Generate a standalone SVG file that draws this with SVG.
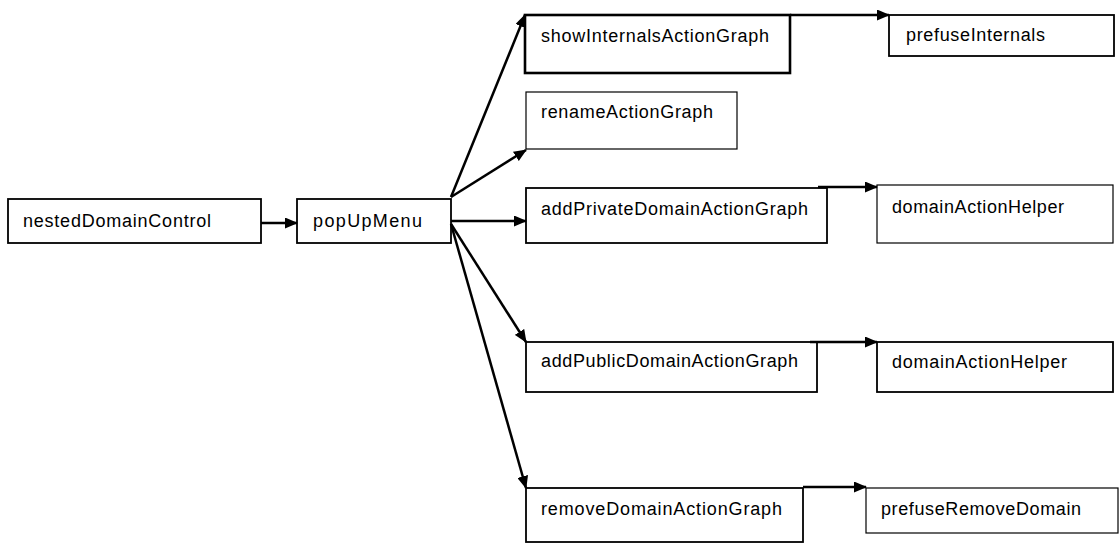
<svg xmlns="http://www.w3.org/2000/svg" width="1120" height="543" viewBox="0 0 1120 543">
<style>
  .box { fill: #ffffff; stroke: #000000; }
  .thin { stroke-width: 1.2; }
  .mid { stroke-width: 1.8; }
  .thick { stroke-width: 2.6; }
  .lbl { font-family: "Liberation Sans", Arial, sans-serif; font-size: 18px; fill: #000000; }
  .edge { fill: none; stroke: #000000; stroke-width: 2.5; marker-end: url(#arrow); }
</style>
<defs>
  <marker id="arrow" markerUnits="userSpaceOnUse" markerWidth="13" markerHeight="11" refX="12" refY="5.5" orient="auto">
    <path d="M0,0 L13,5.5 L0,11 z" fill="#000000"/>
  </marker>
</defs>
<rect width="1120" height="543" fill="#ffffff"/>
<g id="n-nestedDomainControl">
  <rect class="box mid" x="8" y="199" width="253" height="44"/>
  <text class="lbl" x="23" y="227" textLength="188" lengthAdjust="spacing">nestedDomainControl</text>
</g>
<g id="n-popUpMenu">
  <rect class="box mid" x="297" y="199" width="154" height="44"/>
  <text class="lbl" x="313" y="227" textLength="109" lengthAdjust="spacing">popUpMenu</text>
</g>
<g id="n-showInternalsActionGraph">
  <rect class="box thick" x="525" y="15" width="265" height="58"/>
  <text class="lbl" x="541" y="42" textLength="228" lengthAdjust="spacing">showInternalsActionGraph</text>
</g>
<g id="n-renameActionGraph">
  <rect class="box thin" x="526" y="92" width="211" height="57"/>
  <text class="lbl" x="541" y="118" textLength="172" lengthAdjust="spacing">renameActionGraph</text>
</g>
<g id="n-prefuseInternals">
  <rect class="box mid" x="889" y="15" width="225" height="41"/>
  <text class="lbl" x="906" y="41" textLength="139" lengthAdjust="spacing">prefuseInternals</text>
</g>
<g id="n-addPrivateDomainActionGraph">
  <rect class="box mid" x="526" y="188" width="301" height="55"/>
  <text class="lbl" x="541" y="215" textLength="267" lengthAdjust="spacing">addPrivateDomainActionGraph</text>
</g>
<g id="n-domainActionHelper1">
  <rect class="box thin" x="877" y="185" width="236" height="58"/>
  <text class="lbl" x="892" y="213" textLength="172" lengthAdjust="spacing">domainActionHelper</text>
</g>
<g id="n-addPublicDomainActionGraph">
  <rect class="box mid" x="526" y="342" width="291" height="50"/>
  <text class="lbl" x="541" y="367" textLength="257" lengthAdjust="spacing">addPublicDomainActionGraph</text>
</g>
<g id="n-domainActionHelper2">
  <rect class="box mid" x="877" y="342" width="236" height="50"/>
  <text class="lbl" x="892" y="368" textLength="175" lengthAdjust="spacing">domainActionHelper</text>
</g>
<g id="n-removeDomainActionGraph">
  <rect class="box mid" x="526" y="488" width="277" height="54"/>
  <text class="lbl" x="541" y="515" textLength="241" lengthAdjust="spacing">removeDomainActionGraph</text>
</g>
<g id="n-prefuseRemoveDomain">
  <rect class="box thin" x="866" y="488" width="252" height="45"/>
  <text class="lbl" x="881" y="515" textLength="200" lengthAdjust="spacing">prefuseRemoveDomain</text>
</g>
<g id="connectors">
  <path class="edge" d="M261,223 L297,223"/>
  <path class="edge" d="M451,197 L525,15"/>
  <path class="edge" d="M451,197 L526,150"/>
  <path class="edge" d="M451,221 L526,221"/>
  <path class="edge" d="M451,224 L526,342"/>
  <path class="edge" d="M451,224 L526,488"/>
  <path class="edge" d="M790,15 L889,15"/>
  <path class="edge" d="M818,187 L877,187"/>
  <path class="edge" d="M810,342 L877,342"/>
  <path class="edge" d="M803,487 L866,487"/>
</g>
</svg>
